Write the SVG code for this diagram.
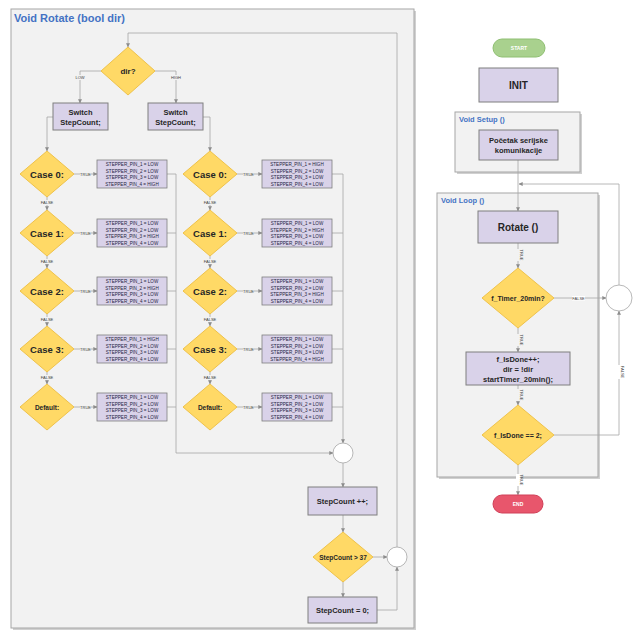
<svg xmlns="http://www.w3.org/2000/svg" width="633" height="637" viewBox="0 0 633 637">
<style>
text{font-family:"Liberation Sans",Arial,sans-serif;}
.panel{fill:#f2f2f2;stroke:#a6a6a6;stroke-width:1}
.ptitle{fill:#4472c4;font-weight:bold}
.dia{fill:#ffd966;stroke:#efc24a;stroke-width:1}
.box{fill:#d9d2e9;stroke:#7f7f7f;stroke-width:1}
.pin{fill:#d9d2e9;stroke:#7f7f7f;stroke-width:0.8}
.circ{fill:#ffffff;stroke:#a6a6a6;stroke-width:0.8}
.conn{stroke:#a6a6a6;fill:none;stroke-width:0.8}
.t{font-weight:bold;fill:#262626;text-anchor:middle}
.pt{font-size:4.6px;fill:#1f1f3f;text-anchor:middle}
.lbl{font-size:4px;fill:#404040;text-anchor:middle}
</style>
<defs>
<marker id="arr" viewBox="0 0 6 6" refX="5.5" refY="3" markerWidth="5" markerHeight="5" orient="auto">
<path d="M0,0 L6,3 L0,6 z" fill="#8c8c8c"/>
</marker>
</defs>
<rect width="633" height="637" fill="#ffffff"/>

<!-- Left panel -->
<g id="panel-rotate">
<rect x="13" y="11" width="403" height="619" fill="#d0d0d0"/>
<rect x="11" y="9" width="403" height="619" class="panel"/>
<text x="14" y="22" class="ptitle" font-size="11">Void Rotate (bool dir)</text>
</g>

<!-- Right panels -->
<g id="panel-setup">
<rect x="457" y="114" width="125" height="60" fill="#d0d0d0"/>
<rect x="455" y="112" width="125" height="60" class="panel" stroke="#7f7f7f"/>
<text x="459" y="122" class="ptitle" font-size="7.5">Void Setup ()</text>
</g>
<g id="panel-loop">
<rect x="439" y="195" width="161" height="284" fill="#d0d0d0"/>
<rect x="437" y="193" width="161" height="284" class="panel" stroke="#8c8c8c"/>
<text x="441" y="203" class="ptitle" font-size="7.5">Void Loop ()</text>
</g>

<!-- Connectors -->
<g id="connectors">
<!-- dir branches -->
<path class="conn" d="M101,71 H80 V103" marker-end="url(#arr)"/>
<path class="conn" d="M155,71 H176 V103" marker-end="url(#arr)"/>
<!-- switch to case0 -->
<path class="conn" d="M53,117 H47 V151" marker-end="url(#arr)"/>
<path class="conn" d="M203,117 H210 V151" marker-end="url(#arr)"/>
<!-- left chain -->
<path class="conn" d="M47,197 V210" marker-end="url(#arr)"/>
<path class="conn" d="M47,256 V268" marker-end="url(#arr)"/>
<path class="conn" d="M47,314 V326" marker-end="url(#arr)"/>
<path class="conn" d="M47,372 V384" marker-end="url(#arr)"/>
<!-- right chain -->
<path class="conn" d="M210,197 V210" marker-end="url(#arr)"/>
<path class="conn" d="M210,256 V268" marker-end="url(#arr)"/>
<path class="conn" d="M210,314 V326" marker-end="url(#arr)"/>
<path class="conn" d="M210,372 V384" marker-end="url(#arr)"/>
<!-- case to pin boxes -->
<path class="conn" d="M74,174 H97" marker-end="url(#arr)"/>
<path class="conn" d="M74,233 H97" marker-end="url(#arr)"/>
<path class="conn" d="M74,291 H97" marker-end="url(#arr)"/>
<path class="conn" d="M74,349 H97" marker-end="url(#arr)"/>
<path class="conn" d="M74,407 H97" marker-end="url(#arr)"/>
<path class="conn" d="M237,174 H262" marker-end="url(#arr)"/>
<path class="conn" d="M237,233 H262" marker-end="url(#arr)"/>
<path class="conn" d="M237,291 H262" marker-end="url(#arr)"/>
<path class="conn" d="M237,349 H262" marker-end="url(#arr)"/>
<path class="conn" d="M237,407 H262" marker-end="url(#arr)"/>
<!-- collectors -->
<path class="conn" d="M167,174 H176 M167,233 H176 M167,291 H176 M167,349 H176 M167,407 H176"/>
<path class="conn" d="M176,174 V453 H333" marker-end="url(#arr)"/>
<path class="conn" d="M332,174 H343 M332,233 H343 M332,291 H343 M332,349 H343 M332,407 H343"/>
<path class="conn" d="M343,174 V443" marker-end="url(#arr)"/>
<!-- bottom chain -->
<path class="conn" d="M343,463 V487" marker-end="url(#arr)"/>
<path class="conn" d="M343,515 V532" marker-end="url(#arr)"/>
<path class="conn" d="M343,582 V597" marker-end="url(#arr)"/>
<path class="conn" d="M373,557 H387" marker-end="url(#arr)"/>
<path class="conn" d="M377,610 H397 V567" marker-end="url(#arr)"/>
<path class="conn" d="M397,547 V33 H128 V47" marker-end="url(#arr)"/>
<!-- right flow -->
<path class="conn" d="M518,160 V211" marker-end="url(#arr)"/>
<path class="conn" d="M619,285 V184 H519" marker-end="url(#arr)"/>
<path class="conn" d="M518,243 V268" marker-end="url(#arr)"/>
<path class="conn" d="M554,298 H606" marker-end="url(#arr)"/>
<path class="conn" d="M518,328 V352" marker-end="url(#arr)"/>
<path class="conn" d="M518,385 V405" marker-end="url(#arr)"/>
<path class="conn" d="M554,435 H619 V311" marker-end="url(#arr)"/>
<path class="conn" d="M518,465 V495" marker-end="url(#arr)"/>
</g>

<!-- connector labels -->
<g id="labels">
<rect x="73" y="75" width="14" height="5" fill="#f2f2f2"/><text x="80" y="79" class="lbl">LOW</text>
<rect x="169" y="75" width="14" height="5" fill="#f2f2f2"/><text x="176" y="79" class="lbl">HIGH</text>
<g fill="#f2f2f2">
<rect x="80" y="172" width="11" height="4"/><rect x="80" y="231" width="11" height="4"/><rect x="80" y="289" width="11" height="4"/><rect x="80" y="347" width="11" height="4"/><rect x="80" y="405" width="11" height="4"/>
<rect x="243" y="172" width="11" height="4"/><rect x="243" y="231" width="11" height="4"/><rect x="243" y="289" width="11" height="4"/><rect x="243" y="347" width="11" height="4"/><rect x="243" y="405" width="11" height="4"/>
<rect x="41" y="200" width="12" height="5"/><rect x="41" y="259" width="12" height="5"/><rect x="41" y="317" width="12" height="5"/><rect x="41" y="375" width="12" height="5"/>
<rect x="204" y="200" width="12" height="5"/><rect x="204" y="259" width="12" height="5"/><rect x="204" y="317" width="12" height="5"/><rect x="204" y="375" width="12" height="5"/>
</g>
<text x="85.5" y="175.5" class="lbl">TRUE</text><text x="85.5" y="234.5" class="lbl">TRUE</text><text x="85.5" y="292.5" class="lbl">TRUE</text><text x="85.5" y="350.5" class="lbl">TRUE</text><text x="85.5" y="408.5" class="lbl">TRUE</text>
<text x="248.5" y="175.5" class="lbl">TRUE</text><text x="248.5" y="234.5" class="lbl">TRUE</text><text x="248.5" y="292.5" class="lbl">TRUE</text><text x="248.5" y="350.5" class="lbl">TRUE</text><text x="248.5" y="408.5" class="lbl">TRUE</text>
<text x="47" y="204" class="lbl">FALSE</text><text x="47" y="263" class="lbl">FALSE</text><text x="47" y="321" class="lbl">FALSE</text><text x="47" y="379" class="lbl">FALSE</text>
<text x="210" y="204" class="lbl">FALSE</text><text x="210" y="263" class="lbl">FALSE</text><text x="210" y="321" class="lbl">FALSE</text><text x="210" y="379" class="lbl">FALSE</text>
<rect x="572" y="296" width="13" height="4.5" fill="#ffffff"/><text x="578.5" y="299.8" class="lbl">FALSE</text>
<g fill="#f2f2f2">
<rect x="516" y="249" width="4.5" height="12"/><rect x="516" y="334" width="4.5" height="12"/><rect x="516" y="389" width="4.5" height="12"/>
</g>
<rect x="516" y="474" width="4.5" height="12" fill="#ffffff"/>
<rect x="617" y="365" width="4.5" height="14" fill="#ffffff"/>
<text class="lbl" transform="translate(519.5,255) rotate(90)">TRUE</text>
<text class="lbl" transform="translate(519.5,340) rotate(90)">TRUE</text>
<text class="lbl" transform="translate(519.5,395) rotate(90)">TRUE</text>
<text class="lbl" transform="translate(519.5,480) rotate(90)">TRUE</text>
<text class="lbl" transform="translate(620.5,372) rotate(90)">FALSE</text>
</g>

<!-- Nodes left panel -->
<g id="dir">
<polygon class="dia" points="128,47 155,71 128,95 101,71"/>
<text x="128" y="74" class="t" font-size="8">dir?</text>
</g>
<g id="switch-low">
<rect class="box" x="53" y="103" width="55" height="27"/>
<text x="80.5" y="115" class="t" font-size="7.5">Switch</text>
<text x="80.5" y="125" class="t" font-size="7.5">StepCount;</text>
</g>
<g id="switch-high">
<rect class="box" x="148" y="103" width="55" height="27"/>
<text x="175.5" y="115" class="t" font-size="7.5">Switch</text>
<text x="175.5" y="125" class="t" font-size="7.5">StepCount;</text>
</g>

<g id="l-case0"><polygon class="dia" points="47,151 74,174 47,197 20,174"/><text x="47" y="177.5" class="t" font-size="9.5">Case 0:</text></g>
<g id="l-case1"><polygon class="dia" points="47,210 74,233 47,256 20,233"/><text x="47" y="236.5" class="t" font-size="9.5">Case 1:</text></g>
<g id="l-case2"><polygon class="dia" points="47,268 74,291 47,314 20,291"/><text x="47" y="294.5" class="t" font-size="9.5">Case 2:</text></g>
<g id="l-case3"><polygon class="dia" points="47,326 74,349 47,372 20,349"/><text x="47" y="352.5" class="t" font-size="9.5">Case 3:</text></g>
<g id="l-default"><polygon class="dia" points="47,384 74,407 47,430 20,407"/><text x="47" y="409.5" class="t" font-size="6.5">Default:</text></g>

<g id="r-case0"><polygon class="dia" points="210,151 237,174 210,197 183,174"/><text x="210" y="177.5" class="t" font-size="9.5">Case 0:</text></g>
<g id="r-case1"><polygon class="dia" points="210,210 237,233 210,256 183,233"/><text x="210" y="236.5" class="t" font-size="9.5">Case 1:</text></g>
<g id="r-case2"><polygon class="dia" points="210,268 237,291 210,314 183,291"/><text x="210" y="294.5" class="t" font-size="9.5">Case 2:</text></g>
<g id="r-case3"><polygon class="dia" points="210,326 237,349 210,372 183,349"/><text x="210" y="352.5" class="t" font-size="9.5">Case 3:</text></g>
<g id="r-default"><polygon class="dia" points="210,384 237,407 210,430 183,407"/><text x="210" y="409.5" class="t" font-size="6.5">Default:</text></g>

<!-- Pin boxes left -->
<g id="l-pins0"><rect class="pin" x="97" y="160" width="70" height="28"/>
<text class="pt" x="132" y="166">STEPPER_PIN_1 = LOW</text><text class="pt" x="132" y="172.5">STEPPER_PIN_2 = LOW</text><text class="pt" x="132" y="179">STEPPER_PIN_3 = LOW</text><text class="pt" x="132" y="185.5">STEPPER_PIN_4 = HIGH</text></g>
<g id="l-pins1"><rect class="pin" x="97" y="219" width="70" height="28"/>
<text class="pt" x="132" y="225">STEPPER_PIN_1 = LOW</text><text class="pt" x="132" y="231.5">STEPPER_PIN_2 = LOW</text><text class="pt" x="132" y="238">STEPPER_PIN_3 = HIGH</text><text class="pt" x="132" y="244.5">STEPPER_PIN_4 = LOW</text></g>
<g id="l-pins2"><rect class="pin" x="97" y="277" width="70" height="28"/>
<text class="pt" x="132" y="283">STEPPER_PIN_1 = LOW</text><text class="pt" x="132" y="289.5">STEPPER_PIN_2 = HIGH</text><text class="pt" x="132" y="296">STEPPER_PIN_3 = LOW</text><text class="pt" x="132" y="302.5">STEPPER_PIN_4 = LOW</text></g>
<g id="l-pins3"><rect class="pin" x="97" y="335" width="70" height="28"/>
<text class="pt" x="132" y="341">STEPPER_PIN_1 = HIGH</text><text class="pt" x="132" y="347.5">STEPPER_PIN_2 = LOW</text><text class="pt" x="132" y="354">STEPPER_PIN_3 = LOW</text><text class="pt" x="132" y="360.5">STEPPER_PIN_4 = LOW</text></g>
<g id="l-pinsd"><rect class="pin" x="97" y="393" width="70" height="28"/>
<text class="pt" x="132" y="399">STEPPER_PIN_1 = LOW</text><text class="pt" x="132" y="405.5">STEPPER_PIN_2 = LOW</text><text class="pt" x="132" y="412">STEPPER_PIN_3 = LOW</text><text class="pt" x="132" y="418.5">STEPPER_PIN_4 = LOW</text></g>

<!-- Pin boxes right -->
<g id="r-pins0"><rect class="pin" x="262" y="160" width="70" height="28"/>
<text class="pt" x="297" y="166">STEPPER_PIN_1 = HIGH</text><text class="pt" x="297" y="172.5">STEPPER_PIN_2 = LOW</text><text class="pt" x="297" y="179">STEPPER_PIN_3 = LOW</text><text class="pt" x="297" y="185.5">STEPPER_PIN_4 = LOW</text></g>
<g id="r-pins1"><rect class="pin" x="262" y="219" width="70" height="28"/>
<text class="pt" x="297" y="225">STEPPER_PIN_1 = LOW</text><text class="pt" x="297" y="231.5">STEPPER_PIN_2 = HIGH</text><text class="pt" x="297" y="238">STEPPER_PIN_3 = LOW</text><text class="pt" x="297" y="244.5">STEPPER_PIN_4 = LOW</text></g>
<g id="r-pins2"><rect class="pin" x="262" y="277" width="70" height="28"/>
<text class="pt" x="297" y="283">STEPPER_PIN_1 = LOW</text><text class="pt" x="297" y="289.5">STEPPER_PIN_2 = LOW</text><text class="pt" x="297" y="296">STEPPER_PIN_3 = HIGH</text><text class="pt" x="297" y="302.5">STEPPER_PIN_4 = LOW</text></g>
<g id="r-pins3"><rect class="pin" x="262" y="335" width="70" height="28"/>
<text class="pt" x="297" y="341">STEPPER_PIN_1 = LOW</text><text class="pt" x="297" y="347.5">STEPPER_PIN_2 = LOW</text><text class="pt" x="297" y="354">STEPPER_PIN_3 = LOW</text><text class="pt" x="297" y="360.5">STEPPER_PIN_4 = HIGH</text></g>
<g id="r-pinsd"><rect class="pin" x="262" y="393" width="70" height="28"/>
<text class="pt" x="297" y="399">STEPPER_PIN_1 = LOW</text><text class="pt" x="297" y="405.5">STEPPER_PIN_2 = LOW</text><text class="pt" x="297" y="412">STEPPER_PIN_3 = LOW</text><text class="pt" x="297" y="418.5">STEPPER_PIN_4 = LOW</text></g>

<!-- bottom of rotate -->
<g id="merge"><circle class="circ" cx="343" cy="453" r="10"/></g>
<g id="stepinc"><rect class="box" x="308" y="487" width="69" height="28"/><text x="342.5" y="504" class="t" font-size="7.5">StepCount ++;</text></g>
<g id="stepcheck"><polygon class="dia" points="343,532 373,557 343,582 313,557"/><text x="343" y="559.5" class="t" font-size="6.5">StepCount &gt; 37</text></g>
<g id="stepreset"><rect class="box" x="308" y="597" width="69" height="26"/><text x="342.5" y="613" class="t" font-size="7.5">StepCount = 0;</text></g>
<g id="loopjoin"><circle class="circ" cx="397" cy="557" r="10"/></g>

<!-- Right flow -->
<g id="start"><rect x="493" y="39" width="52" height="18" rx="9" fill="#a9d18e" stroke="#8fbf72" stroke-width="1"/><text x="519" y="50" class="t" font-size="5" fill="#ffffff" style="fill:#ffffff">START</text></g>
<g id="init"><rect class="box" x="479" y="68" width="79" height="34"/><text x="518.5" y="89" class="t" font-size="10">INIT</text></g>
<g id="serial"><rect class="box" x="479" y="130" width="79" height="30"/><text x="518.5" y="143" class="t" font-size="7.5">Početak serijske</text><text x="518.5" y="153" class="t" font-size="7.5">komunikacije</text></g>
<g id="rotate"><rect class="box" x="478" y="211" width="80" height="32"/><text x="518" y="231" class="t" font-size="10">Rotate ()</text></g>
<g id="timer"><polygon class="dia" points="518,268 554,298 518,328 482,298"/><text x="518" y="300.5" class="t" font-size="7">f_Timer_20min?</text></g>
<g id="loopcircle"><circle class="circ" cx="619" cy="298" r="13"/></g>
<g id="isdoneinc"><rect class="box" x="466" y="352" width="104" height="33"/><text x="518" y="362" class="t" font-size="7.5">f_IsDone++;</text><text x="518" y="372" class="t" font-size="7.5">dir = !dir</text><text x="518" y="382" class="t" font-size="7.5">startTimer_20min();</text></g>
<g id="isdone"><polygon class="dia" points="518,405 554,435 518,465 482,435"/><text x="518" y="437.5" class="t" font-size="7">f_IsDone == 2;</text></g>
<g id="end"><rect x="493" y="495" width="50" height="18" rx="9" fill="#e8566c" stroke="#d04058" stroke-width="1"/><text x="518" y="506" class="t" font-size="5" style="fill:#ffffff">END</text></g>
</svg>
